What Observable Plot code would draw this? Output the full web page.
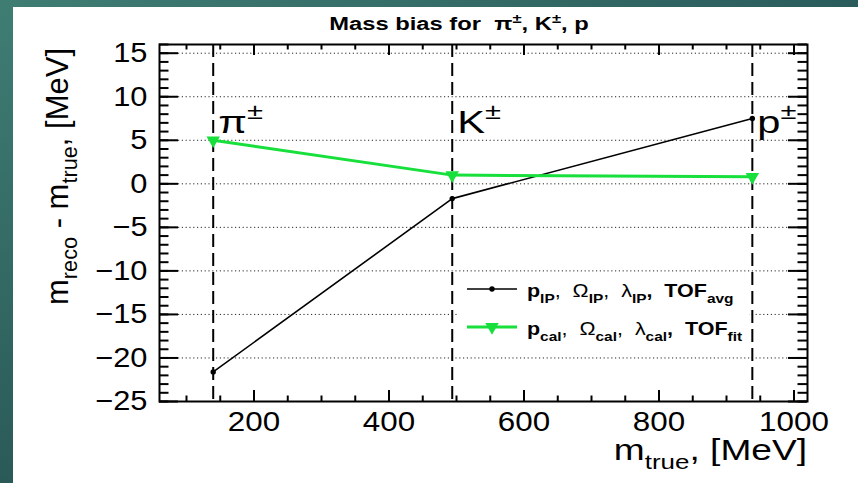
<!DOCTYPE html>
<html>
<head>
<meta charset="utf-8">
<script src="https://cdn.jsdelivr.net/npm/d3@7"></script>
<script src="https://cdn.jsdelivr.net/npm/@observablehq/plot@0.6"></script>
<style>
  html, body { margin: 0; padding: 0; background: #fff; }
  #page { position: relative; width: 858px; height: 483px; overflow: hidden; background: #fff; }
  #chart { position: absolute; left: 0; top: 0; }
  #band-top { position: absolute; left: 0; top: 0; width: 858px; height: 7px; background: linear-gradient(90deg, #3f7d73, #2b5c5c); }
  #band-left { position: absolute; left: 0; top: 0; width: 13px; height: 483px; background: linear-gradient(180deg, #3f7d73, #2a5a58); }
</style>
</head>
<body>
<div id="page">
  <div id="chart"></div>
  <div id="band-top"></div>
  <div id="band-left"></div>
</div>
<script>
// Particle species and their true masses [MeV]
const particles = ["π", "K", "p"];
const massTrue = [139.57, 493.68, 938.27];

// Reconstructed minus true mass [MeV] for the two reconstruction methods
const biasIP = [-21.6, -1.7, 7.5];   // p_IP, Ω_IP, λ_IP, TOF_avg
const biasCal = [5.0, 1.0, 0.8];     // p_cal, Ω_cal, λ_cal, TOF_fit

// Axis ranges and tick values
const xDomain = [60, 1020];
const yDomain = [-25, 16];
const xMajor = [200, 400, 600, 800, 1000];
const xMinor = d3.range(100, 1001, 50);
const yMajor = [-25, -20, -15, -10, -5, 0, 5, 10, 15];
const yMinor = d3.range(-25, 17, 1);

const legendLabels = ["p_{IP},  Ω_{IP},  λ_{IP},  TOF_{avg}", "p_{cal},  Ω_{cal},  λ_{cal},  TOF_{fit}"];

const green = "#17df3b";
const font = "'Liberation Sans', Arial, Helvetica, sans-serif";

const W = 858, H = 483;
const mL = 159, mR = 51, mT = 44, mB = 82;
const plotW = W - mL - mR;
const plotH = H - mT - mB;

const ipRows = particles.map((name, i) => ({name, mass: massTrue[i], bias: biasIP[i]}));
const calRows = particles.map((name, i) => ({name, mass: massTrue[i], bias: biasCal[i]}));
const labelRows = particles.map((name, i) => ({label: name + "^{±}", mass: massTrue[i]}));

const yTickLenMajor = 19, yTickLenMinor = 9.5;
const xTickLenMajor = 11, xTickLenMinor = 5.5;

const svg = Plot.plot({
  width: W,
  height: H,
  marginLeft: mL, marginRight: mR, marginTop: mT, marginBottom: mB,
  style: {background: "transparent", fontFamily: font, color: "#000", overflow: "visible"},
  x: {domain: xDomain},
  y: {domain: yDomain},
  marks: [
    // dotted horizontal grid
    Plot.ruleY(yMajor, {stroke: "#000", strokeWidth: 1, strokeDasharray: "1.2,2.6", strokeOpacity: 0.85}),
    // species mass markers
    Plot.ruleX(massTrue, {stroke: "#000", strokeWidth: 2, strokeDasharray: "13,6"}),
    // IP-based reconstruction
    Plot.line(ipRows, {x: "mass", y: "bias", stroke: "#000", strokeWidth: 1.6}),
    Plot.dot(ipRows, {x: "mass", y: "bias", r: 2.7, fill: "#000", stroke: "none"}),
    // calibrated reconstruction
    Plot.line(calRows, {x: "mass", y: "bias", stroke: green, strokeWidth: 3}),
    Plot.dot(calRows, {x: "mass", y: "bias", symbol: "triangle", rotate: 180, r: 5, fill: green, stroke: "none"}),
    // species labels
    Plot.text(labelRows, {x: "mass", text: "label", frameAnchor: "top", dy: 88, dx: 5, textAnchor: "start", lineAnchor: "bottom", fontSize: 32, fill: "#000"}),
    // inward ticks: bottom / top
    Plot.ruleX(xMinor, {x: d => d, insetTop: plotH - xTickLenMinor, strokeWidth: 2}),
    Plot.ruleX(xMajor, {x: d => d, insetTop: plotH - xTickLenMajor, strokeWidth: 2}),
    Plot.ruleX(xMinor, {x: d => d, insetBottom: plotH - xTickLenMinor, strokeWidth: 2}),
    Plot.ruleX(xMajor, {x: d => d, insetBottom: plotH - xTickLenMajor, strokeWidth: 2}),
    // inward ticks: left / right
    Plot.ruleY(yMinor, {y: d => d, insetRight: plotW - yTickLenMinor, strokeWidth: 2}),
    Plot.ruleY(yMajor, {y: d => d, insetRight: plotW - yTickLenMajor, strokeWidth: 2}),
    Plot.ruleY(yMinor, {y: d => d, insetLeft: plotW - yTickLenMinor, strokeWidth: 2}),
    Plot.ruleY(yMajor, {y: d => d, insetLeft: plotW - yTickLenMajor, strokeWidth: 2}),
    Plot.frame({stroke: "#000", strokeWidth: 2}),
    Plot.axisX({ticks: xMajor, tickSize: 0, tickPadding: 10, fontSize: 28, tickFormat: d3.format("d"), label: null}),
    Plot.axisY({ticks: yMajor, tickSize: 0, tickPadding: 12, fontSize: 28, tickFormat: d3.format("d"), label: null})
  ]
});

document.getElementById("chart").appendChild(svg);

// Turn "a_{b}" / "a^{b}" markup into tspans with sub/superscripts
function richText(textEl, src, base, opts = {}) {
  const sel = d3.select(textEl);
  sel.text(null);
  const re = /([_^])\{([^}]*)\}/g;
  let last = 0, m, shift = 0;
  const parts = [];
  while ((m = re.exec(src))) {
    if (m.index > last) parts.push({t: src.slice(last, m.index), k: "n"});
    parts.push({t: m[2], k: m[1] === "_" ? "sub" : "sup"});
    last = re.lastIndex;
  }
  if (last < src.length) parts.push({t: src.slice(last), k: "n"});
  for (const p of parts) {
    const target = p.k === "sub" ? base * (opts.sub ?? 0.3) : p.k === "sup" ? -base * (opts.sup ?? 0.42) : 0;
    const ts = sel.append("tspan").text(p.t).attr("dy", target - shift);
    shift = target;
    if (p.k !== "n") ts.attr("font-size", base * (opts.scale ?? 0.68));
    if (opts.greekNormal && /[Ωλ]/.test(p.t)) ts.attr("font-weight", "normal");
  }
}

// Widen a text element horizontally around its anchor point
function widen(el, k) {
  const tr = el.getAttribute("transform") || "";
  el.setAttribute("transform", `${tr} scale(${k},1)`);
}

const root = d3.select(svg);

// tick labels
root.selectAll("g[aria-label='x-axis tick label'] text").each(function () { widen(this, 1.12); });
root.selectAll("g[aria-label='y-axis tick label'] text").each(function () { widen(this, 1.1); });

// species labels with superscripts
root.selectAll("text").each(function () {
  const s = this.textContent;
  if (s.includes("^{")) {
    richText(this, s, 32, {sup: 0.42, scale: 0.7});
    widen(this, 1.3);
  }
});

// title
const title = root.append("text")
  .attr("transform", "translate(459,30) scale(1.32,1)")
  .attr("text-anchor", "middle")
  .attr("font-family", font).attr("font-weight", "bold").attr("font-size", 18);
richText(title.node(), "Mass bias for  π^{±}, K^{±}, p", 18, {sup: 0.4, scale: 0.7});

// axis titles
const xt = root.append("text")
  .attr("transform", "translate(807,460) scale(1.28,1)")
  .attr("text-anchor", "end")
  .attr("font-family", font).attr("font-size", 29);
richText(xt.node(), "m_{true}, [MeV]", 29, {sub: 0.3, scale: 0.7});

const yt = root.append("text")
  .attr("transform", "translate(68,48) rotate(-90)")
  .attr("text-anchor", "end")
  .attr("font-family", font).attr("font-size", 31);
richText(yt.node(), "m_{reco} - m_{true}, [MeV]", 31, {sub: 0.3, scale: 0.7});

// legend
const leg = root.append("g");
leg.append("rect").attr("x", 457).attr("y", 273).attr("width", 292).attr("height", 79).attr("fill", "#fff");
const rowsY = [289, 327];
leg.append("line").attr("x1", 467).attr("x2", 517).attr("y1", rowsY[0]).attr("y2", rowsY[0]).attr("stroke", "#000").attr("stroke-width", 1.6);
leg.append("circle").attr("cx", 492).attr("cy", rowsY[0]).attr("r", 2.7).attr("fill", "#000");
leg.append("line").attr("x1", 467).attr("x2", 517).attr("y1", rowsY[1]).attr("y2", rowsY[1]).attr("stroke", green).attr("stroke-width", 3);
leg.append("path").attr("d", d3.symbol(d3.symbolTriangle, Math.PI * 25)()).attr("transform", `translate(492,${rowsY[1]}) rotate(180)`).attr("fill", green);
legendLabels.forEach((lab, i) => {
  const t = leg.append("text")
    .attr("transform", `translate(527,${rowsY[i] + 8}) scale(1.13,1)`)
    .attr("text-anchor", "start")
    .attr("font-family", font).attr("font-weight", "bold").attr("font-size", 19);
  richText(t.node(), lab, 19, {sub: 0.3, scale: 0.72, greekNormal: true});
});
</script>
</body>
</html>
